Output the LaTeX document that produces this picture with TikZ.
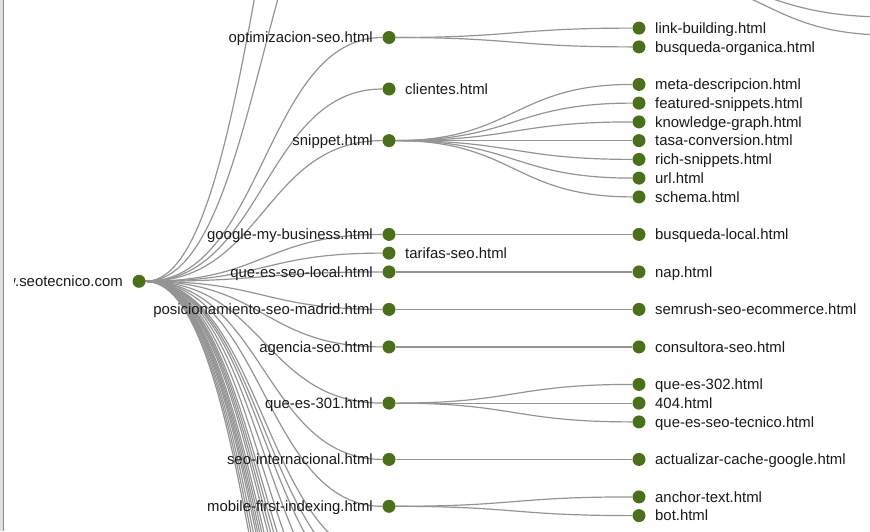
\documentclass[tikz,border=0pt]{standalone}
\usepackage{fontspec}
\setmainfont{Liberation Sans}
\usetikzlibrary{backgrounds}
\definecolor{pagegreen}{RGB}{74,112,26}

\begin{document}
\begin{tikzpicture}[x=1pt,y=-1pt,
  page/.style={circle,fill=pagegreen,minimum size=13pt,inner sep=0pt},
  name left/.style={anchor=base east,inner sep=0pt,text=black!90,font=\fontsize{14.9}{18}\selectfont},
  name right/.style={name left,anchor=base west},
  link/.style={draw=black!42,line width=1.2pt},
  diag/.style={to path={.. controls +(125,0) and +(-125,0) .. (\tikztotarget)}}]

  \useasboundingbox (0,0) rectangle (870,531);
  \fill [black!12] (0,0) rectangle (3,531);
  \draw [black!45] (3.5,0) -- (3.5,531);

  % Site root
  \node [page] at (139,281.3) (root) {};
  \begin{scope}
    \clip (14.5,0) rectangle (870,531);
    \node [name left] at ([shift={(-16,5.2)}]root) (root-t) {www.seotecnico.com};
  \end{scope}

  % First level: pages linked from the root
  \node [page] at (389,37.5) (opt) {};
  \node [name left] at ([shift={(-16,5.2)}]opt) (opt-t) {optimizacion-seo.html};
  \node [page] at (389,89) (cli) {};
  \node [name right] at ([shift={(16,5.2)}]cli) (cli-t) {clientes.html};
  \node [page] at (389,140.6) (snip) {};
  \node [name left] at ([shift={(-16,5.2)}]snip) (snip-t) {snippet.html};
  \node [page] at (389,234.4) (gmb) {};
  \node [name left] at ([shift={(-16,5.2)}]gmb) (gmb-t) {google-my-business.html};
  \node [page] at (389,253.1) (tar) {};
  \node [name right] at ([shift={(16,5.2)}]tar) (tar-t) {tarifas-seo.html};
  \node [page] at (389,271.9) (local) {};
  \node [name left] at ([shift={(-16,5.2)}]local) (local-t) {que-es-seo-local.html};
  \node [page] at (389,309.4) (madrid) {};
  \node [name left] at ([shift={(-16,5.2)}]madrid) (madrid-t) {posicionamiento-seo-madrid.html};
  \node [page] at (389,346.9) (agency) {};
  \node [name left] at ([shift={(-16,5.2)}]agency) (agency-t) {agencia-seo.html};
  \node [page] at (389,403.1) (r301) {};
  \node [name left] at ([shift={(-16,5.2)}]r301) (r301-t) {que-es-301.html};
  \node [page] at (389,459.4) (intl) {};
  \node [name left] at ([shift={(-16,5.2)}]intl) (intl-t) {seo-internacional.html};
  \node [page] at (389,506.3) (mobile) {};
  \node [name left] at ([shift={(-16,5.2)}]mobile) (mobile-t) {mobile-first-indexing.html};

  % Second level
  \node [page] at (639,28.1) (links) {};
  \node [name right] at ([shift={(16,5.2)}]links) (links-t) {link-building.html};
  \node [page] at (639,46.9) (organic) {};
  \node [name right] at ([shift={(16,5.2)}]organic) (organic-t) {busqueda-organica.html};
  \node [page] at (639,84.4) (meta) {};
  \node [name right] at ([shift={(16,5.2)}]meta) (meta-t) {meta-descripcion.html};
  \node [page] at (639,103.1) (featured) {};
  \node [name right] at ([shift={(16,5.2)}]featured) (featured-t) {featured-snippets.html};
  \node [page] at (639,121.9) (kgraph) {};
  \node [name right] at ([shift={(16,5.2)}]kgraph) (kgraph-t) {knowledge-graph.html};
  \node [page] at (639,140.6) (rate) {};
  \node [name right] at ([shift={(16,5.2)}]rate) (rate-t) {tasa-conversion.html};
  \node [page] at (639,159.4) (rich) {};
  \node [name right] at ([shift={(16,5.2)}]rich) (rich-t) {rich-snippets.html};
  \node [page] at (639,178.1) (url) {};
  \node [name right] at ([shift={(16,5.2)}]url) (url-t) {url.html};
  \node [page] at (639,196.9) (schema) {};
  \node [name right] at ([shift={(16,5.2)}]schema) (schema-t) {schema.html};
  \node [page] at (639,234.4) (blocal) {};
  \node [name right] at ([shift={(16,5.2)}]blocal) (blocal-t) {busqueda-local.html};
  \node [page] at (639,271.9) (nap) {};
  \node [name right] at ([shift={(16,5.2)}]nap) (nap-t) {nap.html};
  \node [page] at (639,309.4) (semrush) {};
  \node [name right] at ([shift={(16,5.2)}]semrush) (semrush-t) {semrush-seo-ecommerce.html};
  \node [page] at (639,346.9) (consult) {};
  \node [name right] at ([shift={(16,5.2)}]consult) (consult-t) {consultora-seo.html};
  \node [page] at (639,384.4) (r302) {};
  \node [name right] at ([shift={(16,5.2)}]r302) (r302-t) {que-es-302.html};
  \node [page] at (639,403.1) (e404) {};
  \node [name right] at ([shift={(16,5.2)}]e404) (e404-t) {404.html};
  \node [page] at (639,421.9) (tech) {};
  \node [name right] at ([shift={(16,5.2)}]tech) (tech-t) {que-es-seo-tecnico.html};
  \node [page] at (639,459.4) (cache) {};
  \node [name right] at ([shift={(16,5.2)}]cache) (cache-t) {actualizar-cache-google.html};
  \node [page] at (639,496.9) (atext) {};
  \node [name right] at ([shift={(16,5.2)}]atext) (atext-t) {anchor-text.html};
  \node [page] at (639,515.6) (bot) {};
  \node [name right] at ([shift={(16,5.2)}]bot) (bot-t) {bot.html};

  % Pages outside the visible window
  \coordinate (up1) at (389,-185);
  \coordinate (up2) at (389,-400);
  \coordinate (upkid) at (639,-25);
  \coordinate (far1) at (889,17);
  \coordinate (far2) at (889,35);
  \foreach \y [count=\i] in {560,580,600,630,667,700,720,740,760,790,810,830,850,870,900,930,960}
    \coordinate (low\i) at (389,\y);

  \begin{pgfonlayer}{background}
    \draw [link]
      (root) edge [diag] (up2) edge [diag] (up1) edge [diag] (opt)
             edge [diag] (cli) edge [diag] (snip) edge [diag] (gmb)
             edge [diag] (tar) edge [diag] (local) edge [diag] (madrid)
             edge [diag] (agency) edge [diag] (r301) edge [diag] (intl)
             edge [diag] (mobile)
      (opt) edge [diag] (links) edge [diag] (organic)
      (snip) edge [diag] (meta) edge [diag] (featured) edge [diag] (kgraph)
             edge [diag] (rate) edge [diag] (rich) edge [diag] (url)
             edge [diag] (schema)
      (gmb) edge [diag] (blocal)
      (local) edge [diag] (nap)
      (madrid) edge [diag] (semrush)
      (agency) edge [diag] (consult)
      (r301) edge [diag] (r302) edge [diag] (e404) edge [diag] (tech)
      (intl) edge [diag] (cache)
      (mobile) edge [diag] (atext) edge [diag] (bot)
      (upkid) edge [diag] (far1) edge [diag] (far2);
    \foreach \i in {1,...,17}
      \draw [link] (root) to [diag] (low\i);
  \end{pgfonlayer}

\end{tikzpicture}
\end{document}
